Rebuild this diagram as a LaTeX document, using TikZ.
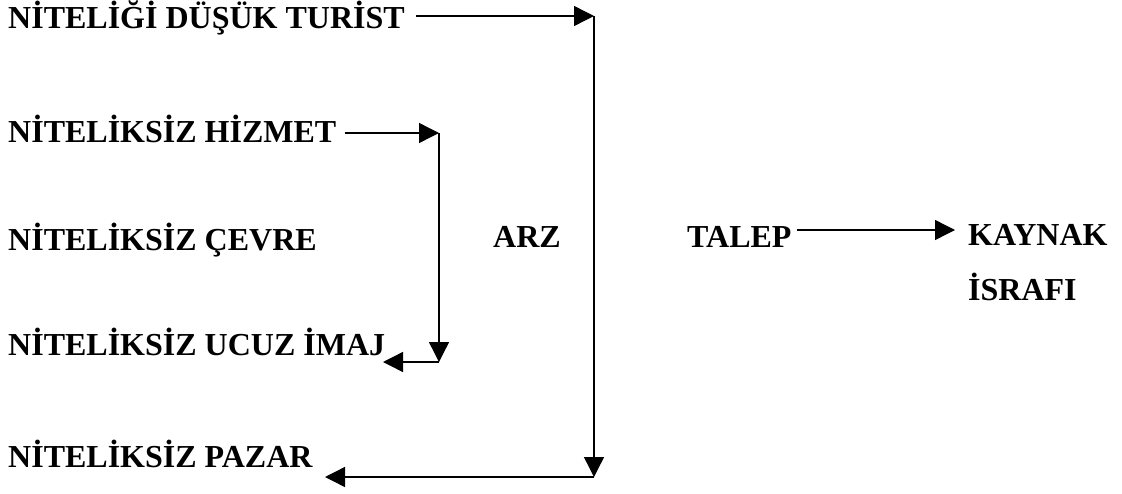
\documentclass[tikz,border=0pt]{standalone}
\usepackage{fontspec}
\setmainfont{Liberation Serif}
\usetikzlibrary{arrows.meta}
\begin{document}
\begin{tikzpicture}[x=1pt,y=-1pt,
  lbl/.style={font=\bfseries\fontsize{32}{38}\selectfont, inner sep=0pt, anchor=base west},
  conn/.style={line width=1.4pt, line cap=butt},
  arr/.style={conn,-{Triangle[length=20pt,width=20pt]}}]
\useasboundingbox (0,0) rectangle (1122,493);
% labels
\node[lbl] (t1) at (8,28)  {NİTELİĞİ DÜŞÜK TURİST};
\node[lbl] (t2) at (8,142) {NİTELİKSİZ HİZMET};
\node[lbl] (t3) at (8,250) {NİTELİKSİZ ÇEVRE};
\node[lbl] (t4) at (8,355) {NİTELİKSİZ UCUZ İMAJ};
\node[lbl] (t5) at (8,467) {NİTELİKSİZ PAZAR};
\node[lbl] (arz) at (493,247) {ARZ};
\node[lbl] (talep) at (687,247) {TALEP};
\node[lbl] (kaynak) at (968,245) {KAYNAK};
\node[lbl] (israf) at (968,300) {İSRAFI};
% corner and end coordinates
\coordinate (c1) at (594,16);
\coordinate (c2) at (594,477);
\coordinate (h1) at (439,133);
\coordinate (h2) at (439,362);
\coordinate (e4) at (383,362);
\coordinate (e5) at (325,477);
\coordinate (s1) at ([xshift=11pt]t1.east);
\coordinate (s2) at ([xshift=8pt]t2.east);
\coordinate (ts) at ([xshift=5pt]talep.east);
\coordinate (ke) at ([xshift=-13pt]kaynak.west);
% connectors
\draw[arr] (s1 |- c1) -- (c1);
\draw[arr] (c1) -- (c2);
\draw[arr] (c2) -- (e5);
\draw[arr] (s2 |- h1) -- (h1);
\draw[arr] (h1) -- (h2);
\draw[arr] (h2) -- (e4);
\draw[arr] (ts |- 0,230) -- (ke |- 0,230);
\end{tikzpicture}
\end{document}
